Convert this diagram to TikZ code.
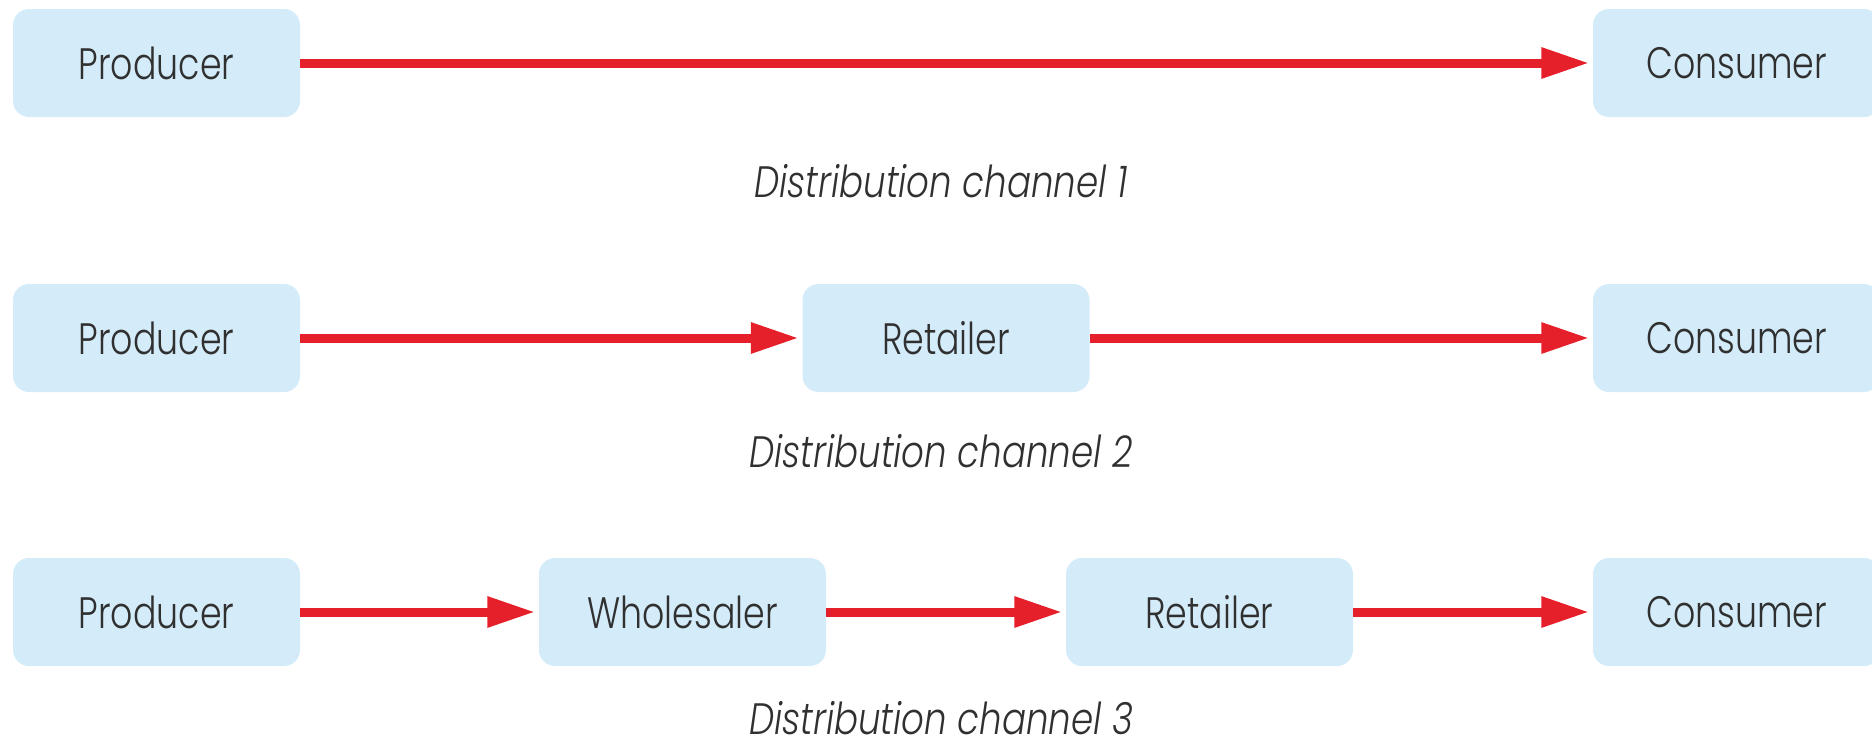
\documentclass[tikz,border=0pt]{standalone}
\usepackage{fontspec}
\setmainfont{Poppins Light}
\newfontfamily\stagefont{Poppins Light}[FakeStretch=0.79]
\newfontfamily\captionfont{Poppins Light}[FakeStretch=0.81]
\usetikzlibrary{arrows.meta}
\definecolor{boxblue}{HTML}{D4ECF9}
\definecolor{flowred}{HTML}{E6202A}
\definecolor{ink}{HTML}{303030}
\tikzset{
  stage/.style={fill=boxblue, rounded corners=16pt, minimum width=287pt,
    minimum height=108pt, inner sep=0pt, text=ink,
    font=\stagefont\fontsize{44}{46}\selectfont},
  flow/.style={draw=flowred, line width=9pt,
    -{Triangle[length=48pt,width=29pt]}, shorten >=3.5pt},
  caption/.style={text=ink, inner sep=0pt, anchor=base,
    font=\captionfont\fontsize{44}{46}\selectfont\itshape}
}
\begin{document}
\begin{tikzpicture}[x=1pt,y=-1pt]
  \useasboundingbox (0,0) rectangle (1872,742);

  % channel 1: producer straight to consumer
  \node[stage] (p1) at (156.5,63) {Producer};
  \node[stage] (c1) at (1736.5,63) {Consumer};
  \draw[flow] (p1.east) -- (c1.west);
  \node[caption] (t1) at (941,197) {Distribution channel 1};

  % channel 2: through a retailer
  \node[stage] (p2) at (156.5,338) {Producer};
  \node[stage] (r2) at (946,338) {Retailer};
  \node[stage] (c2) at (1736.5,338) {Consumer};
  \draw[flow] (p2.east) -- (r2.west);
  \draw[flow] (r2.east) -- (c2.west);
  \node[caption] (t2) at (941,467) {Distribution channel 2};

  % channel 3: wholesaler and retailer
  \node[stage] (p3) at (156.5,612) {Producer};
  \node[stage] (w3) at (682.5,612) {Wholesaler};
  \node[stage] (r3) at (1209.5,612) {Retailer};
  \node[stage] (c3) at (1736.5,612) {Consumer};
  \draw[flow] (p3.east) -- (w3.west);
  \draw[flow] (w3.east) -- (r3.west);
  \draw[flow] (r3.east) -- (c3.west);
  \node[caption] (t3) at (941,734) {Distribution channel 3};
\end{tikzpicture}
\end{document}
